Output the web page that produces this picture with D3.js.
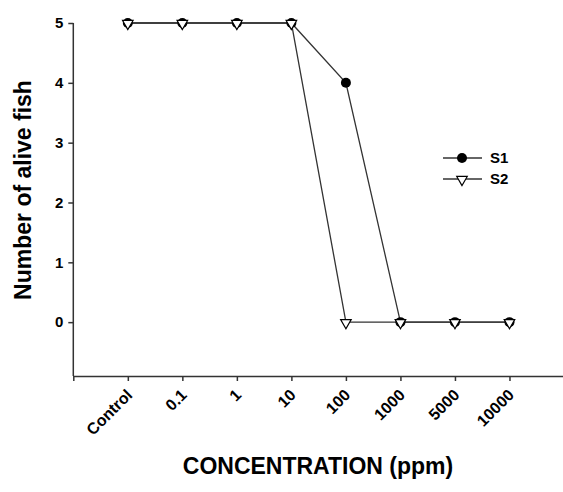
<!DOCTYPE html>
<html>
<head>
<meta charset="utf-8">
<script src="https://cdn.jsdelivr.net/npm/d3@7"></script>
<style>
  html, body { margin: 0; padding: 0; background: #fff; }
  svg { display: block; font-family: "Liberation Sans", Arial, sans-serif; }
  .axis path, .axis line { stroke: #333; stroke-width: 1.5px; }
  .axis text { font-size: 15px; font-weight: bold; fill: #000; }
  .xaxis text { font-size: 16px; }
</style>
</head>
<body>
<div id="chart"></div>
<script>
// concentrations on the x axis (positions 1..8)
const categories = ["Control", "0.1", "1", "10", "100", "1000", "5000", "10000"];
const s1Values = [5, 5, 5, 5, 4, 0, 0, 0];
const s2Values = [5, 5, 5, 5, 0, 0, 0, 0];
const yTicks = [0, 1, 2, 3, 4, 5];

document.addEventListener("DOMContentLoaded", function() {
  const width = 563, height = 492;

  const svg = d3.select("#chart")
    .append("svg")
    .attr("width", width)
    .attr("height", height);

  const x = d3.scaleLinear().domain([0, 9]).range([73.3, 564]);
  const y = d3.scaleLinear().domain([-0.9, 5]).range([376, 23]);

  // x axis
  const xAxis = svg.append("g")
    .attr("class", "axis xaxis")
    .attr("transform", "translate(0," + y(-0.9) + ")")
    .call(d3.axisBottom(x)
      .tickValues(d3.range(0, 10))
      .tickSize(5)
      .tickSizeOuter(0)
      .tickFormat(d => (d >= 1 && d <= categories.length) ? categories[d - 1] : ""));

  xAxis.selectAll("text")
    .attr("text-anchor", "end")
    .attr("x", 0)
    .attr("y", 0)
    .attr("dy", 0)
    .attr("transform", "translate(5,20) rotate(-45)");

  // y axis
  svg.append("g")
    .attr("class", "axis")
    .attr("transform", "translate(" + x(0) + ",0)")
    .call(d3.axisLeft(y)
      .tickValues(yTicks)
      .tickSize(5)
      .tickPadding(5)
      .tickFormat(d3.format("d"))
      .tickSizeOuter(0))
    .select(".domain")
    .attr("d", "M0," + y(5) + "V" + y(-0.9));

  // axis titles
  svg.append("text")
    .attr("x", 318)
    .attr("y", 474)
    .attr("text-anchor", "middle")
    .style("font-size", "23px")
    .style("font-weight", "bold")
    .text("CONCENTRATION (ppm)");

  svg.append("text")
    .attr("transform", "translate(31,190) rotate(-90)")
    .attr("text-anchor", "middle")
    .style("font-size", "23px")
    .style("font-weight", "bold")
    .text("Number of alive fish");

  const line = d3.line()
    .x((d, i) => x(i + 1))
    .y(d => y(d));

  svg.append("path")
    .datum(s1Values)
    .attr("d", line)
    .attr("fill", "none")
    .attr("stroke", "#333")
    .attr("stroke-width", 1.3);

  svg.append("path")
    .datum(s2Values)
    .attr("d", line)
    .attr("fill", "none")
    .attr("stroke", "#333")
    .attr("stroke-width", 1.3);

  const tri = d3.symbol().type(d3.symbolTriangle).size(48);

  svg.selectAll(".s1")
    .data(s1Values)
    .enter()
    .append("circle")
    .attr("class", "s1")
    .attr("cx", (d, i) => x(i + 1))
    .attr("cy", d => y(d))
    .attr("r", 5)
    .attr("fill", "#000");

  svg.selectAll(".s2")
    .data(s2Values)
    .enter()
    .append("path")
    .attr("class", "s2")
    .attr("d", tri)
    .attr("transform", (d, i) => "translate(" + x(i + 1) + "," + (y(d) + 0.5) + ") rotate(180)")
    .attr("fill", "#fff")
    .attr("stroke", "#000")
    .attr("stroke-width", 1.2);

  // legend
  const legend = svg.append("g").attr("transform", "translate(443,158)");
  const legendItems = ["S1", "S2"];
  legendItems.forEach(function(name, i) {
    const g = legend.append("g").attr("transform", "translate(0," + i * 21 + ")");
    g.append("line")
      .attr("x1", 0).attr("x2", 39)
      .attr("stroke", "#333").attr("stroke-width", 1.3);
    if (i === 0) {
      g.append("circle").attr("cx", 19).attr("r", 5).attr("fill", "#000");
    } else {
      g.append("path").attr("d", tri)
        .attr("transform", "translate(19,0.5) rotate(180)")
        .attr("fill", "#fff").attr("stroke", "#000").attr("stroke-width", 1.2);
    }
    g.append("text")
      .attr("x", 47)
      .attr("dy", "0.36em")
      .style("font-size", "15px")
      .style("font-weight", "bold")
      .text(name);
  });
});
</script>
</body>
</html>
